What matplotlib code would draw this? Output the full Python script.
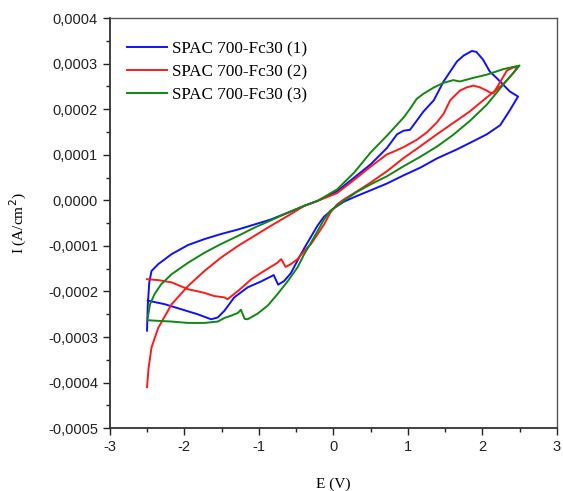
import numpy as np
import matplotlib.pyplot as plt
from matplotlib.ticker import FuncFormatter, MultipleLocator

# potential (V) and current density (units of 1e-4 A/cm2) for each scan
E_1 = [-2.49, -2.26, -2.04, -1.82, -1.64, -1.55, -1.46, -1.33, -1.15, -0.97,
       -0.80, -0.74, -0.66, -0.57, -0.48, -0.39, -0.30, -0.21, -0.125, 0.01,
       0.14, 0.32, 0.50, 0.72, 0.944, 1.17, 1.39, 1.66, 1.88, 2.06,
       2.24, 2.37, 2.48, 2.37, 2.28, 2.19, 2.10, 2.01, 1.92, 1.86,
       1.75, 1.66, 1.57, 1.48, 1.35, 1.21, 1.12, 1.03, 0.944, 0.855,
       0.72, 0.50, 0.28, 0.05, -0.21, -0.39, -0.61, -0.84, -1.06, -1.28,
       -1.51, -1.73, -1.95, -2.17, -2.35, -2.44, -2.47, -2.49, -2.50]
I_1 = [-2.20, -2.28, -2.39, -2.50, -2.61, -2.57, -2.42, -2.13, -1.91, -1.78,
       -1.64, -1.85, -1.77, -1.60, -1.32, -1.05, -0.80, -0.55, -0.36, -0.17,
       -0.03, 0.10, 0.22, 0.37, 0.55, 0.72, 0.92, 1.12, 1.30, 1.45,
       1.65, 1.98, 2.28, 2.39, 2.54, 2.69, 2.83, 3.09, 3.26, 3.28,
       3.18, 3.05, 2.83, 2.61, 2.20, 1.95, 1.75, 1.55, 1.53, 1.45,
       1.15, 0.79, 0.50, 0.20, -0.01, -0.12, -0.27, -0.42, -0.53, -0.64,
       -0.74, -0.85, -0.98, -1.18, -1.40, -1.55, -1.80, -2.30, -2.86]

E_2 = [-2.50, -2.35, -2.17, -1.95, -1.73, -1.60, -1.46, -1.42, -1.28, -1.10,
       -0.93, -0.75, -0.70, -0.64, -0.57, -0.48, -0.39, -0.30, -0.21, -0.125,
       -0.04, 0.05, 0.14, 0.32, 0.50, 0.72, 0.944, 1.17, 1.39, 1.61,
       1.83, 2.06, 2.28, 2.42, 2.47, 2.42, 2.33, 2.24, 2.15, 2.10,
       2.06, 1.97, 1.88, 1.79, 1.70, 1.57, 1.48, 1.39, 1.26, 1.12,
       0.944, 0.81, 0.72, 0.50, 0.28, 0.05, -0.21, -0.39, -0.61, -0.84,
       -1.06, -1.28, -1.51, -1.73, -1.95, -2.17, -2.35, -2.44, -2.48, -2.50]
I_2 = [-1.73, -1.75, -1.80, -1.95, -2.03, -2.10, -2.13, -2.17, -1.99, -1.73,
       -1.55, -1.37, -1.29, -1.46, -1.40, -1.29, -1.11, -0.96, -0.74, -0.53,
       -0.27, -0.09, 0.02, 0.20, 0.39, 0.64, 0.93, 1.19, 1.45, 1.70,
       1.95, 2.26, 2.55, 2.80, 2.92, 2.92, 2.85, 2.60, 2.35, 2.37,
       2.41, 2.48, 2.52, 2.48, 2.41, 2.20, 1.90, 1.71, 1.50, 1.33,
       1.17, 1.07, 1.01, 0.74, 0.45, 0.16, -0.01, -0.12, -0.34, -0.56,
       -0.78, -1.00, -1.26, -1.55, -1.88, -2.28, -2.80, -3.23, -3.69, -4.10]

E_3 = [-2.49, -2.40, -2.17, -1.95, -1.73, -1.55, -1.46, -1.37, -1.28, -1.24,
       -1.19, -1.15, -1.02, -0.88, -0.75, -0.61, -0.48, -0.39, -0.30, -0.21,
       -0.125, -0.04, 0.05, 0.14, 0.32, 0.50, 0.72, 0.944, 1.17, 1.39,
       1.61, 1.83, 2.06, 2.28, 2.50, 2.28, 2.06, 1.88, 1.70, 1.61,
       1.48, 1.35, 1.21, 1.12, 1.03, 0.944, 0.72, 0.50, 0.28, 0.05,
       -0.21, -0.39, -0.61, -0.84, -1.06, -1.28, -1.51, -1.73, -1.95, -2.17,
       -2.31, -2.40, -2.46, -2.49]
I_3 = [-2.63, -2.64, -2.66, -2.69, -2.69, -2.66, -2.58, -2.53, -2.47, -2.40,
       -2.60, -2.61, -2.49, -2.31, -2.06, -1.77, -1.47, -1.18, -0.93, -0.67,
       -0.42, -0.23, -0.12, -0.01, 0.19, 0.35, 0.53, 0.75, 0.96, 1.18,
       1.44, 1.74, 2.10, 2.54, 2.96, 2.88, 2.76, 2.69, 2.61, 2.64,
       2.58, 2.48, 2.34, 2.23, 2.01, 1.82, 1.42, 1.05, 0.61, 0.24,
       -0.01, -0.12, -0.27, -0.44, -0.60, -0.78, -0.96, -1.15, -1.37, -1.62,
       -1.84, -2.06, -2.28, -2.57]

labels = ["SPAC 700-Fc30 (1)", "SPAC 700-Fc30 (2)", "SPAC 700-Fc30 (3)"]
colors = ["#1010ff", "#ff1a1a", "#118811"]

fig = plt.figure(figsize=(5.63, 4.91), dpi=100)
ax = fig.add_axes([0.195, 0.128, 0.794, 0.835])

for E, I, lab, c in zip([E_1, E_2, E_3], [I_1, I_2, I_3], labels, colors):
    ax.plot(E, np.array(I) * 1e-4, color=c, lw=1.4, label=lab)

ax.set_xlim(-3, 3)
ax.set_ylim(-0.0005, 0.0004)
ax.xaxis.set_major_locator(MultipleLocator(1))
ax.xaxis.set_minor_locator(MultipleLocator(0.5))
ax.yaxis.set_major_locator(MultipleLocator(0.0001))
ax.yaxis.set_minor_locator(MultipleLocator(0.00005))
ax.xaxis.set_major_formatter(FuncFormatter(lambda v, p: "%d" % round(v)))
ax.yaxis.set_major_formatter(
    FuncFormatter(lambda v, p: ("%.4f" % v).replace(".", ",").replace("-0,0000", "0,0000")))

ax.tick_params(which="major", direction="out", length=5, width=1,
               labelsize=10.5, colors="#222222", labelcolor="#222222")
ax.tick_params(which="minor", direction="out", length=3, width=1, colors="#222222")
for lab in ax.get_xticklabels() + ax.get_yticklabels():
    lab.set_fontfamily("Liberation Sans")

for s in ["left", "bottom"]:
    ax.spines[s].set_color("#333333")
    ax.spines[s].set_linewidth(1.3)
for s in ["top", "right"]:
    ax.spines[s].set_color("#555555")
    ax.spines[s].set_linewidth(1.0)

ax.set_xlabel("E (V)", fontfamily="Liberation Serif", fontsize=11, labelpad=17)
ax.set_ylabel("I (A/cm$^2$)", fontfamily="Liberation Serif", fontsize=11, labelpad=14)

leg = ax.legend(loc="upper left", bbox_to_anchor=(0.038, 0.944), frameon=False,
                handlelength=2.35, borderpad=0, borderaxespad=0,
                prop={"family": "Liberation Serif", "size": 12.3},
                labelspacing=0.42, handletextpad=0.3)

fig.savefig("out.png", dpi=100)
